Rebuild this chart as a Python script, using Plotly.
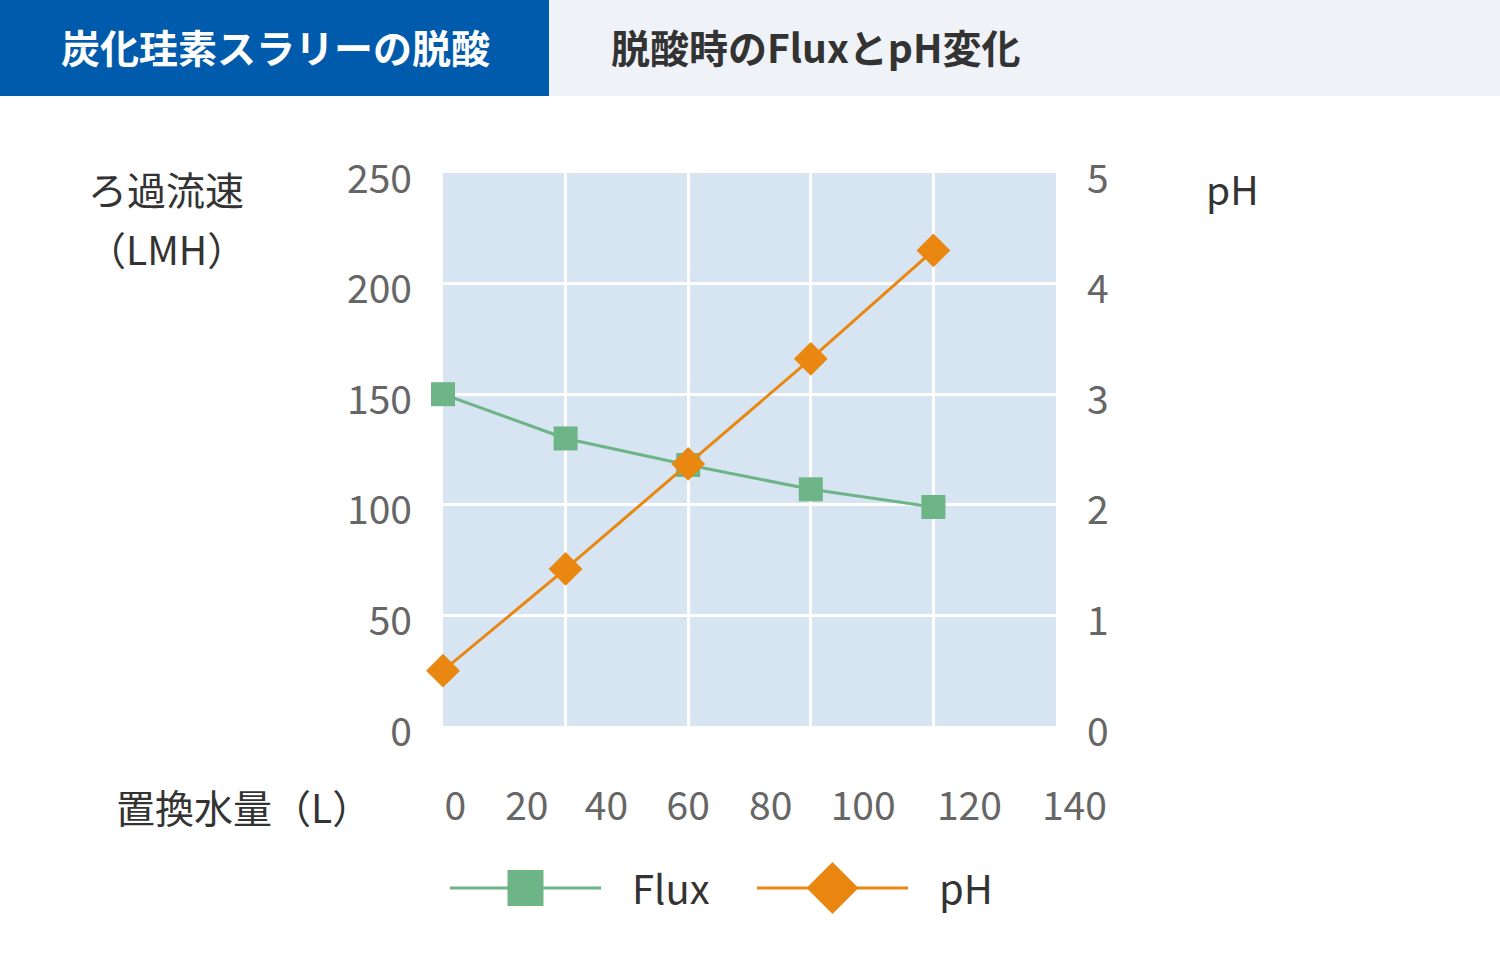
import plotly.graph_objects as go

# data
water_l = [0, 30, 60, 90, 120]
flux = [150, 130, 118, 107, 99]
ph = [0.50, 1.42, 2.37, 3.32, 4.30]

# x tick labels (the original puts them where it likes, not on the grid)
xtick_text = ["0", "20", "40", "60", "80", "100", "120", "140"]
xtick_pos = [3, 20.5, 40, 60, 80.2, 102.8, 128.8, 154.5]

GREEN = "#6db487"
ORANGE = "#e98711"
FONT = "Noto Sans CJK JP"
W, H = 1500, 960


def px(x):
    return x / W


def py(y):
    return 1 - y / H


fig = go.Figure()

fig.add_trace(go.Scatter(
    name="Flux", x=water_l, y=flux, mode="lines+markers",
    line=dict(color=GREEN, width=3), cliponaxis=False,
    marker=dict(symbol="square", size=24, color=GREEN),
    xaxis="x", yaxis="y"))

fig.add_trace(go.Scatter(
    name="pH", x=water_l, y=ph, mode="lines+markers",
    line=dict(color=ORANGE, width=3), cliponaxis=False,
    marker=dict(symbol="diamond", size=26, color=ORANGE),
    xaxis="x", yaxis="y2"))

# empty trace so the tick-label axis gets drawn
fig.add_trace(go.Scatter(x=[], y=[], xaxis="x2", yaxis="y3",
                         showlegend=False, hoverinfo="skip"))

# hand made legend (pixel units on its own hidden axes)
legend_items = [("Flux", GREEN, "square", 36, 450),
                ("pH", ORANGE, "diamond", 40, 757)]
for name, col, sym, size, x0 in legend_items:
    fig.add_trace(go.Scatter(
        x=[x0, x0 + 151], y=[72, 72], mode="lines",
        line=dict(color=col, width=3), showlegend=False,
        hoverinfo="skip", xaxis="x3", yaxis="y3"))
    fig.add_trace(go.Scatter(
        x=[x0 + 75.5], y=[72], mode="markers", cliponaxis=False,
        marker=dict(symbol=sym, size=size, color=col), showlegend=False,
        hoverinfo="skip", xaxis="x3", yaxis="y3"))
    fig.add_annotation(
        x=x0 + 180, y=73, xref="x3", yref="y3", text=name,
        showarrow=False, xanchor="left", yanchor="middle",
        font=dict(family=FONT, size=40, color="#333333"))

tick_font = dict(family=FONT, size=39, color="#666666")

fig.update_layout(
    width=W, height=H,
    margin=dict(l=0, r=0, t=0, b=0, autoexpand=False),
    paper_bgcolor="white", plot_bgcolor="rgba(0,0,0,0)",
    showlegend=False,
    font=dict(family=FONT),
    xaxis=dict(domain=[px(443), px(1056)], range=[0, 150], dtick=30,
               showgrid=True, gridcolor="white", gridwidth=3,
               showticklabels=False, ticks="", zeroline=False,
               showline=False, anchor="y"),
    yaxis=dict(domain=[py(726), py(173)], range=[0, 250], dtick=50,
               showgrid=True, gridcolor="white", gridwidth=3,
               ticks="", zeroline=False, showline=False,
               tickfont=tick_font, ticklabelstandoff=30,
               ticklabelshift=6, anchor="x"),
    yaxis2=dict(overlaying="y", side="right", range=[0, 5], dtick=1,
                showgrid=False, ticks="", zeroline=False, showline=False,
                tickfont=tick_font, ticklabelstandoff=30,
                ticklabelshift=6, anchor="x"),
    xaxis2=dict(domain=[px(443), px(1100)], range=[0, 150 * 657 / 613],
                anchor="y3", side="top", showgrid=False, zeroline=False,
                showline=False, ticks="", tickmode="array",
                tickvals=xtick_pos, ticktext=xtick_text, tickfont=tick_font),
    xaxis3=dict(domain=[0, 1], range=[0, W], visible=False, anchor="y3"),
    yaxis3=dict(domain=[0, py(829)], range=[0, 131], visible=False,
                anchor="x3"),
)

# plot background of the main panel and the header tabs
fig.add_shape(type="rect", xref="x domain", yref="y domain",
              x0=0, x1=1, y0=0, y1=1, layer="below",
              fillcolor="#d6e5f1", line_width=0)
fig.add_shape(type="rect", xref="paper", yref="paper",
              x0=0, x1=px(549), y0=py(96), y1=1,
              fillcolor="#005bac", line_width=0)
fig.add_shape(type="rect", xref="paper", yref="paper",
              x0=px(549), x1=1, y0=py(96), y1=1,
              fillcolor="#eff2f7", line_width=0)

texts = [
    ("炭化珪素スラリーの脱酸", 275, 46, "center", 39, "white", True),
    ("脱酸時のFluxとpH変化", 609, 46, "left", 39, "#333333", True),
    ("ろ過流速", 166, 188, "center", 39, "#333333", False),
    ("（LMH）", 166, 248, "center", 39, "#333333", False),
    ("pH", 1232, 188, "center", 39, "#333333", False),
    ("置換水量（L）", 243, 806, "center", 39, "#333333", False),
]
for t, x, y, anchor, size, col, bold in texts:
    fig.add_annotation(
        x=px(x), y=py(y), xref="paper", yref="paper",
        text="<b>%s</b>" % t if bold else t, showarrow=False,
        xanchor=anchor, yanchor="middle",
        font=dict(family=FONT, size=size, color=col))

# no page margin around the figure, no modebar
fig.write_html("out.html", config={"displayModeBar": False},
               post_script="document.body.style.margin='0';")
